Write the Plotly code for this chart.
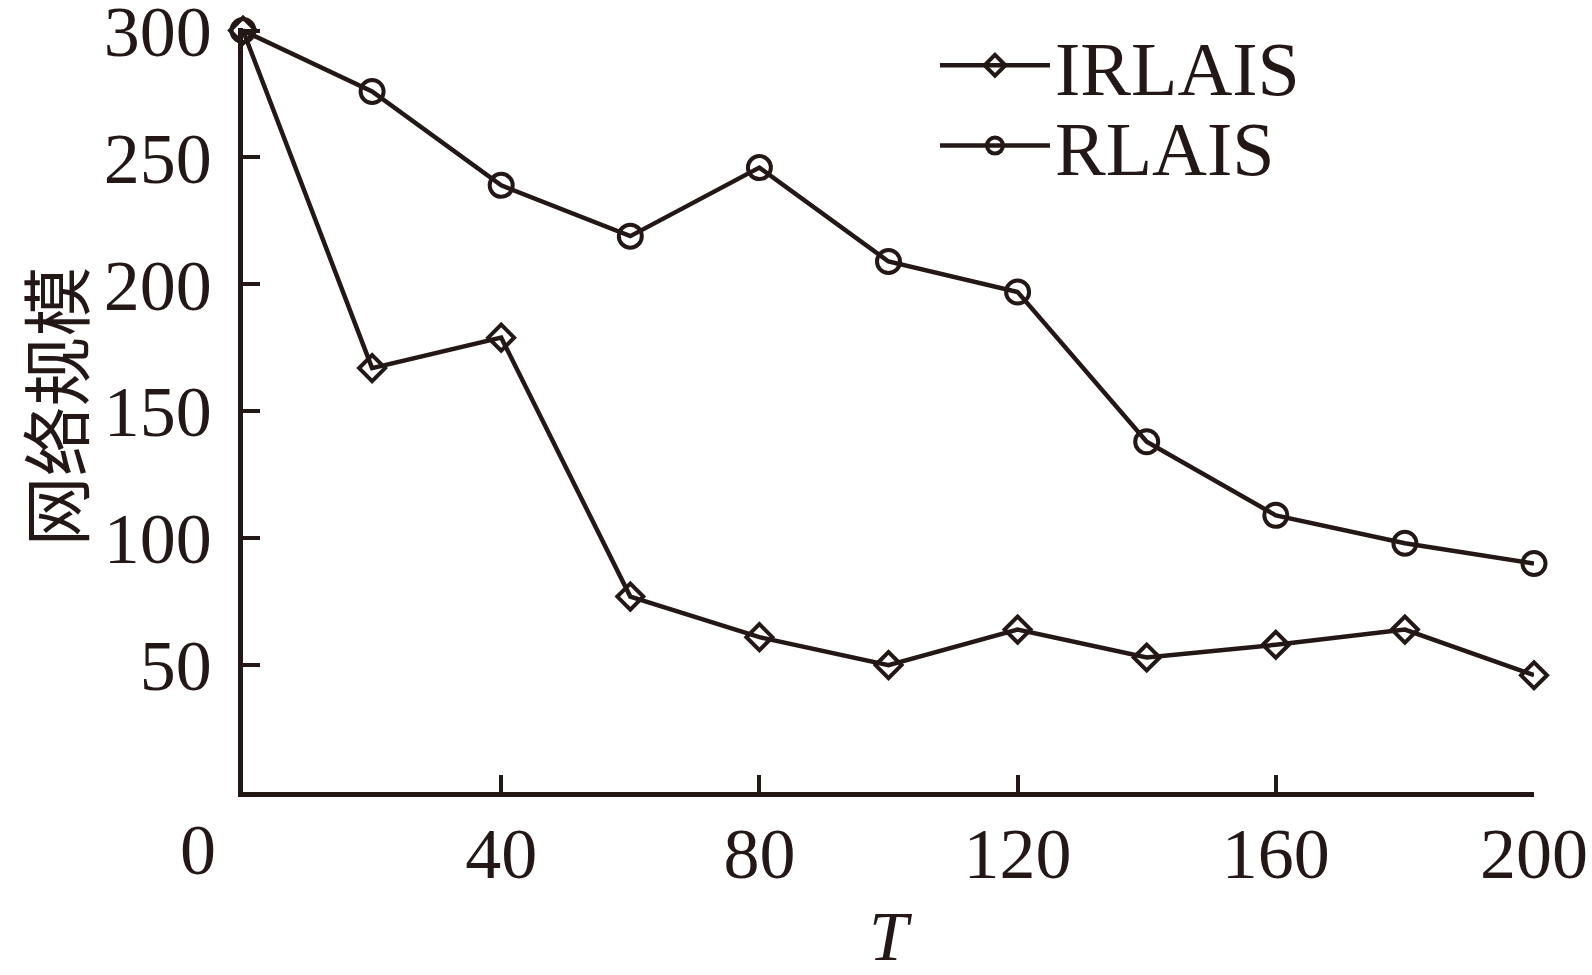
import plotly.graph_objects as go

T = [0, 20, 40, 60, 80, 100, 120, 140, 160, 180, 200]
irlais = [300, 167, 179, 77, 61, 50, 64, 53, 58, 64, 46]
rlais = [300, 276, 239, 219, 246, 209, 197, 138, 109, 98, 90]

x_ticks = [40, 80, 120, 160, 200]
y_ticks = [50, 100, 150, 200, 250, 300]

INK = "#231815"
SERIF = "Liberation Serif"

fig = go.Figure()
fig.add_trace(go.Scatter(
    x=T, y=irlais, name="IRLAIS", mode="lines+markers", cliponaxis=False,
    legend="legend",
    line=dict(color=INK, width=4.5),
    marker=dict(symbol="diamond-open", size=20, color=INK, line=dict(color=INK, width=4)),
))
fig.add_trace(go.Scatter(
    x=T, y=rlais, name="RLAIS", mode="lines+markers", cliponaxis=False,
    legend="legend2",
    line=dict(color=INK, width=4.5),
    marker=dict(symbol="circle-open", size=23, color=INK, line=dict(color=INK, width=4)),
))

leg_common = dict(xanchor="left", yanchor="middle", bgcolor="rgba(0,0,0,0)",
                  font=dict(family=SERIF, size=76, color=INK), itemwidth=110)

fig.update_layout(
    width=1592, height=975,
    margin=dict(l=243, r=58, t=28, b=183, autoexpand=False),
    paper_bgcolor="white", plot_bgcolor="white",
    font=dict(family=SERIF, color=INK, size=72),
    showlegend=True,
    legend=dict(x=0.536, y=0.951, **leg_common),
    legend2=dict(x=0.536, y=0.846, **leg_common),
    xaxis=dict(range=[0, 200], tickvals=x_ticks, ticks="inside", ticklen=17, tickwidth=4,
               tickcolor=INK, showline=True, linecolor=INK, linewidth=4.5, showgrid=False,
               zeroline=False, ticklabelstandoff=-5, ticklabeloverflow="allow",
               tickfont=dict(family=SERIF, size=72, color=INK),
               title=dict(text="<i>T</i>", font=dict(family=SERIF, size=70, color=INK), standoff=52)),
    yaxis=dict(range=[0, 301], tickvals=y_ticks, ticks="inside", ticklen=17, tickwidth=4,
               tickcolor=INK, showline=True, linecolor=INK, linewidth=4.5, showgrid=False,
               zeroline=False, ticklabelstandoff=12, ticklabeloverflow="allow",
               tickfont=dict(family=SERIF, size=72, color=INK)),
)

# y-axis title (rotated text placed further left than the margin-constrained axis title allows)
fig.add_annotation(text="网络规模", x=-0.147, y=0.505, xref="paper", yref="paper",
                   xanchor="center", yanchor="middle", textangle=-90, showarrow=False,
                   font=dict(family="Noto Sans CJK SC", size=70, color=INK))

# corner "0" label shared by both axes
fig.add_annotation(text="0", x=0, y=0, xref="x", yref="y", xanchor="center", yanchor="middle",
                   xshift=-45, yshift=-58, showarrow=False,
                   font=dict(family=SERIF, size=72, color=INK))

fig.write_html("out.html", config={"displayModeBar": False},
               post_script="document.body.style.margin='0';")
